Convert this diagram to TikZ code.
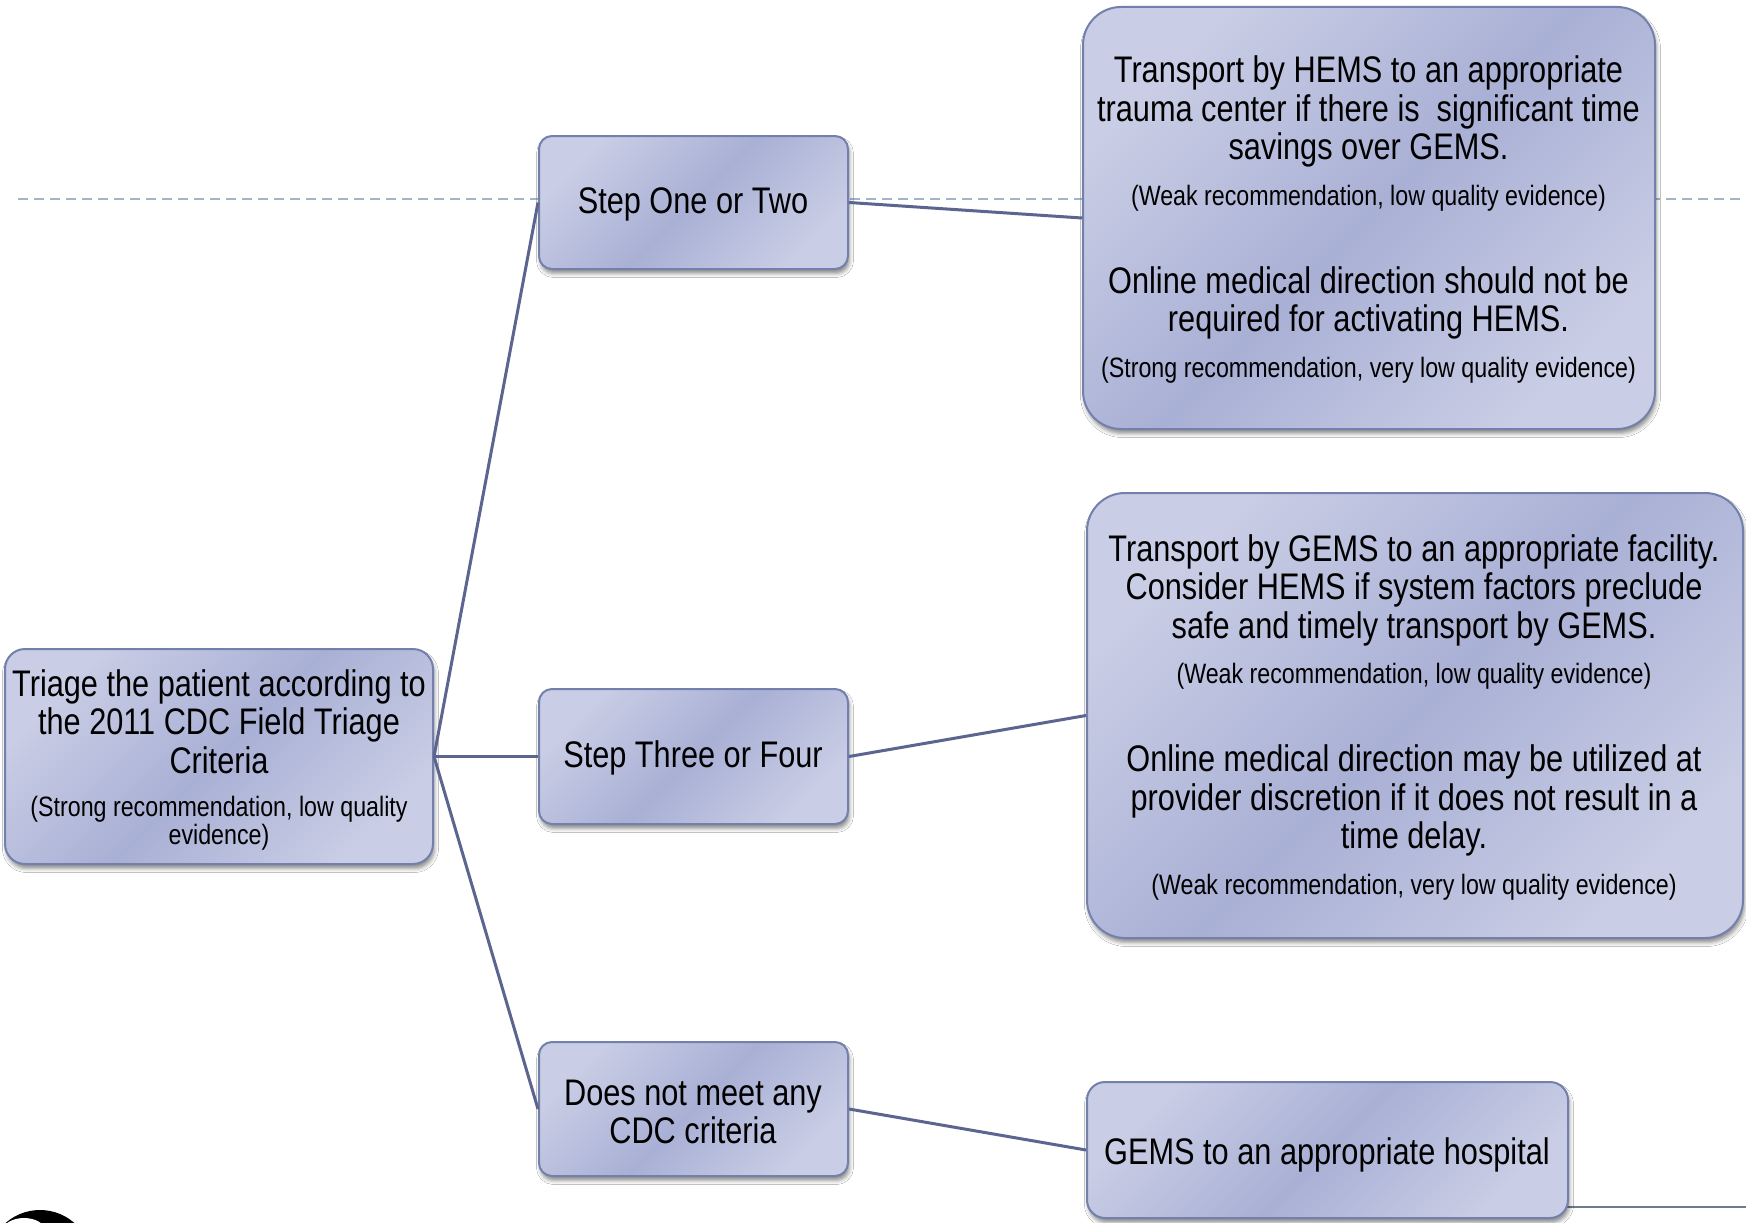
\documentclass[tikz,border=0pt]{standalone}
\usepackage{fontspec}
\setmainfont{Liberation Sans}[FakeStretch=0.83]
\usetikzlibrary{shadows.blur}
\definecolor{boxlight}{HTML}{C9CDE5}
\definecolor{boxdark}{HTML}{A9B0D5}
\definecolor{boxedge}{HTML}{7480AC}
\definecolor{conn}{HTML}{5B6590}
\definecolor{dashc}{HTML}{A0B6CC}
\definecolor{edgeline}{HTML}{6D7A90}
\begin{document}
\begin{tikzpicture}[x=1pt,y=-1pt,
  boxnode/.style={draw=boxedge, line width=2pt,
    top color=boxlight, bottom color=boxlight, middle color=boxdark, shading angle=45,
    blur shadow={shadow xshift=1.5pt, shadow yshift=-4.5pt, shadow blur radius=4pt, shadow opacity=45},
    inner sep=0pt},
  maintxt/.style={align=center, font=\fontsize{37}{38.5}\selectfont, inner sep=0pt},
  smalltxt/.style={align=center, font=\fontsize{28}{28}\selectfont, inner sep=0pt},
  connector/.style={draw=conn, line width=3pt},
  dashline/.style={draw=dashc, line width=2.5pt, dash pattern=on 10pt off 6pt}]
\useasboundingbox (0,0) rectangle (1746,1223);
\fill[white] (0,0) rectangle (1746,1223);

% background dashed line and bottom-right rule
\coordinate (dashL) at (18,199);
\coordinate (dashR) at (1746,199);
\draw[dashline] (dashL) -- (dashR);
\coordinate (ruleA) at (1560,1207);
\coordinate (ruleB) at (1746,1207);
\draw[edgeline, line width=2pt] (ruleA) -- (ruleB);

% logo fragment bottom-left
\fill[black] (40,1262) circle (52);
\fill[white] (24,1232) ellipse [x radius=22, y radius=14];

% boxes
\node[boxnode, minimum width=428pt, minimum height=215pt, rounded corners=20pt] (L) at (219,756.5) {};
\node[boxnode, minimum width=309pt, minimum height=133pt, rounded corners=13pt] (S1) at (693.5,202.5) {};
\node[boxnode, minimum width=309pt, minimum height=135pt, rounded corners=13pt] (S2) at (693.5,756.5) {};
\node[boxnode, minimum width=309pt, minimum height=134pt, rounded corners=13pt] (S3) at (693.5,1109) {};
\node[boxnode, minimum width=572pt, minimum height=422pt, rounded corners=38pt] (R1) at (1369,218) {};
\node[boxnode, minimum width=656pt, minimum height=445pt, rounded corners=38pt] (R2) at (1415,715.5) {};
\node[boxnode, minimum width=481pt, minimum height=136pt, rounded corners=18pt] (R3) at (1327.5,1150) {};

% connectors
\draw[connector] (L.east) -- (S1.west);
\draw[connector] (L.east) -- (S2.west);
\draw[connector] (L.east) -- (S3.west);
\draw[connector] (S1.east) -- (R1.west);
\draw[connector] (S2.east) -- (R2.west);
\draw[connector] (S3.east) -- (R3.west);

% texts
\node[maintxt] (Lt) at (219,721.5) {Triage the patient according to\\the 2011 CDC Field Triage\\Criteria};
\node[smalltxt] (Ls) at (219,823) {(Strong recommendation, low quality\\evidence)};

\node[maintxt] (S1t) at (693,204.8) {Step One or Two};
\node[maintxt] (S2t) at (693,758.3) {Step Three or Four};
\node[maintxt] (S3t) at (693,1111.8) {Does not meet any\\CDC criteria};

\node[maintxt] (R1a) at (1368.5,111.6) {Transport by HEMS to an appropriate\\trauma center if there is\ \ significant time\\savings over GEMS.};
\node[smalltxt] (R1b) at (1368.5,198.5) {(Weak recommendation, low quality evidence)};
\node[maintxt] (R1c) at (1368.5,302.8) {Online medical direction should not be\\required for activating HEMS.};
\node[smalltxt] (R1d) at (1368.5,370) {(Strong recommendation, very low quality evidence)};

\node[maintxt] (R2a) at (1414,590.1) {Transport by GEMS to an appropriate facility.\\Consider HEMS if system factors preclude\\safe and timely transport by GEMS.};
\node[smalltxt] (R2b) at (1414,676.2) {(Weak recommendation, low quality evidence)};
\node[maintxt] (R2c) at (1414,800.6) {Online medical direction may be utilized at\\provider discretion if it does not result in a\\time delay.};
\node[smalltxt] (R2d) at (1414,887.7) {(Weak recommendation, very low quality evidence)};

\node[maintxt] (R3t) at (1327,1154.7) {GEMS to an appropriate hospital};
\end{tikzpicture}
\end{document}
